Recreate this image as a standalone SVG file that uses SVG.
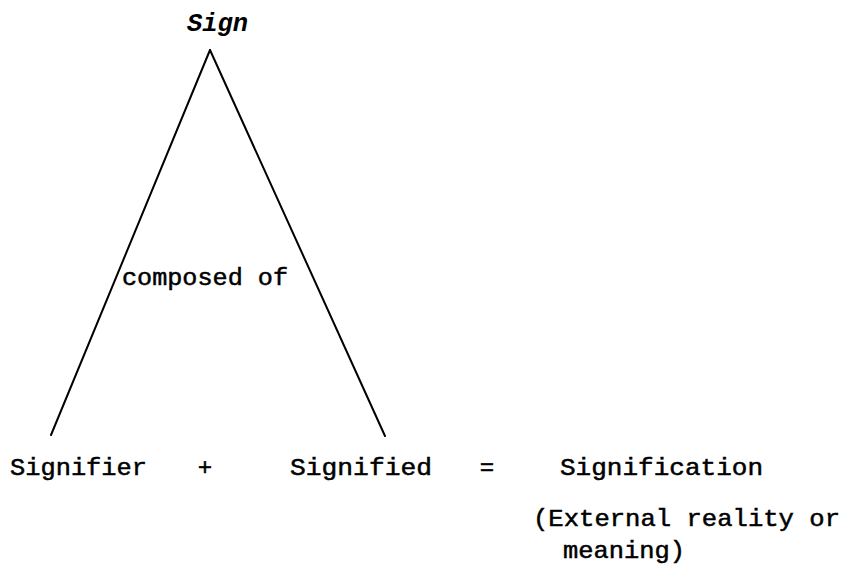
<svg xmlns="http://www.w3.org/2000/svg" width="849" height="575" viewBox="0 0 849 575">
<style>
.t{font-family:"Liberation Mono","DejaVu Sans Mono",monospace;font-size:24px;fill:#000;stroke:#000;stroke-width:0.5}
.title{font-family:"Liberation Mono","DejaVu Sans Mono",monospace;font-size:25px;font-weight:bold;font-style:italic;fill:#000}
.edge{stroke:#000;stroke-width:2;fill:none;stroke-linecap:round}
</style>
<rect width="849" height="575" fill="#fff"/>
<g id="connectors">
<line class="edge" x1="210" y1="50" x2="51" y2="435"/>
<line class="edge" x1="210" y1="50" x2="385" y2="436"/>
</g>
<g id="sign"><text class="title" x="187" y="31" textLength="61" lengthAdjust="spacingAndGlyphs">Sign</text></g>
<g id="composed"><text class="t" x="122" y="285" textLength="166" lengthAdjust="spacingAndGlyphs">composed of</text></g>
<g id="signifier"><text class="t" x="10" y="475" textLength="137" lengthAdjust="spacingAndGlyphs">Signifier</text></g>
<g id="plus"><text class="t" x="205" y="475" text-anchor="middle">+</text></g>
<g id="signified"><text class="t" x="290" y="475" textLength="142" lengthAdjust="spacingAndGlyphs">Signified</text></g>
<g id="equals"><text class="t" x="487" y="475" text-anchor="middle">=</text></g>
<g id="signification"><text class="t" x="560" y="475" textLength="203" lengthAdjust="spacingAndGlyphs">Signification</text></g>
<g id="note">
<text class="t" x="533" y="526" textLength="307" lengthAdjust="spacingAndGlyphs">(External reality or</text>
<text class="t" x="563" y="558" textLength="122" lengthAdjust="spacingAndGlyphs">meaning)</text>
</g>
</svg>
